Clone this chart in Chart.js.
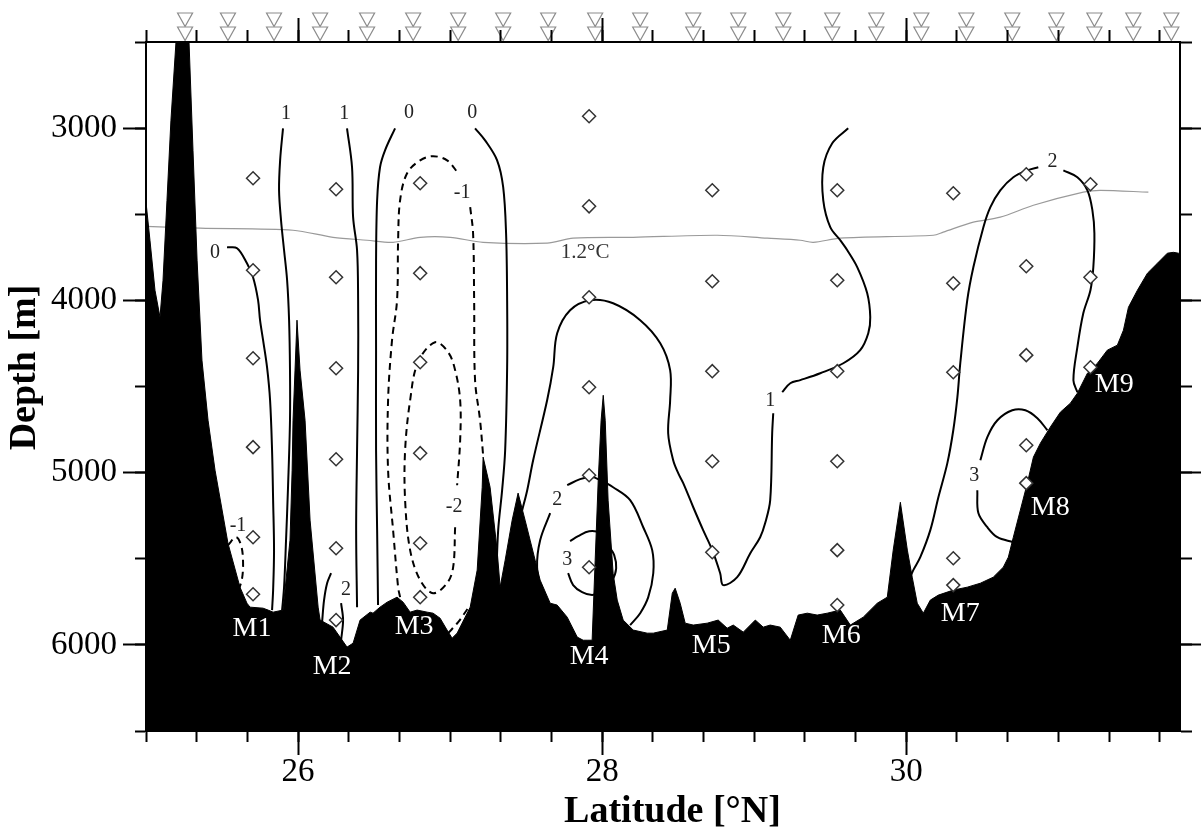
<!DOCTYPE html>
<html>
<head>
<meta charset="utf-8">
<script src="https://cdn.jsdelivr.net/npm/chart.js"></script>
<style>
html,body{margin:0;padding:0;background:#fff;}
#wrap{width:1201px;height:835px;}
</style>
</head>
<body>
<div id="wrap"><canvas id="c" width="1201" height="835"></canvas></div>
<script>
// ---------- axis ticks ----------
const latMin = 25, latMax = 31.8;
const depthMin = 2500, depthMax = 6500;
const majorLatTicks = [26, 28, 30];
const minorLatTicks = [25, 25.3333, 25.6667, 26, 26.3333, 26.6667, 27, 27.3333, 27.6667, 28, 28.3333, 28.6667,
  29, 29.3333, 29.6667, 30, 30.3333, 30.6667, 31, 31.3333, 31.6667];
const majorDepthTicks = [3000, 4000, 5000, 6000];
const minorDepthTicks = [2500, 3000, 3500, 4000, 4500, 5000, 5500, 6000, 6500];

// ---------- CTD stations (double triangles above the frame) ----------
const stationLat = [25.257, 25.539, 25.842, 26.145, 26.454, 26.757, 27.053, 27.349, 27.645, 27.954, 28.250, 28.599,
  28.895, 29.191, 29.513, 29.803, 30.099, 30.395, 30.697, 30.987, 31.237, 31.493, 31.743];

// ---------- current-meter sample points (diamonds) ----------
const diamondLat = [
  25.704, 25.704, 25.704, 25.704, 25.704, 25.704,
  26.250, 26.250, 26.250, 26.250, 26.250, 26.250,
  26.803, 26.803, 26.803, 26.803, 26.803, 26.803,
  27.914, 27.914, 27.914, 27.914, 27.914, 27.914,
  28.724, 28.724, 28.724, 28.724, 28.724,
  29.546, 29.546, 29.546, 29.546, 29.546, 29.546,
  30.309, 30.309, 30.309, 30.309, 30.309,
  30.789, 30.789, 30.789, 30.789, 30.789,
  31.211, 31.211, 31.211];
const diamondDepth = [
  3291, 3825, 4336, 4852, 5375, 5706,
  3355, 3866, 4394, 4922, 5439, 5856,
  3320, 3842, 4359, 4887, 5410, 5723,
  2931, 3454, 3982, 4504, 5015, 5549,
  3361, 3889, 4411, 4934, 5462,
  3361, 3883, 4411, 4934, 5450, 5769,
  3378, 3901, 4417, 5497, 5653,
  3268, 3802, 4318, 4841, 5061,
  3326, 3866, 4388];

// ---------- bathymetry ----------
const bathyLat = [25.000, 25.026, 25.059, 25.092, 25.112, 25.138, 25.164, 25.197, 25.237, 25.283,
  25.309, 25.336, 25.368, 25.408, 25.454, 25.539, 25.618, 25.664, 25.684, 25.770,
  25.803, 25.836, 25.901, 25.947, 25.961, 25.967, 25.980, 25.993, 26.013, 26.046,
  26.079, 26.132, 26.145, 26.230, 26.276, 26.322, 26.362, 26.408, 26.474, 26.493,
  26.539, 26.586, 26.651, 26.691, 26.737, 26.783, 26.849, 26.888, 26.934, 26.980,
  27.013, 27.046, 27.099, 27.132, 27.178, 27.211, 27.217, 27.263, 27.309, 27.329,
  27.362, 27.408, 27.447, 27.493, 27.526, 27.559, 27.592, 27.658, 27.704, 27.770,
  27.836, 27.875, 27.901, 27.934, 27.954, 27.974, 27.993, 28.007, 28.020, 28.039,
  28.072, 28.099, 28.138, 28.204, 28.296, 28.336, 28.428, 28.461, 28.480, 28.513,
  28.546, 28.599, 28.691, 28.763, 28.822, 28.862, 28.928, 29.007, 29.059, 29.105,
  29.171, 29.237, 29.289, 29.349, 29.414, 29.480, 29.566, 29.632, 29.717, 29.809,
  29.875, 29.914, 29.961, 30.007, 30.039, 30.072, 30.112, 30.158, 30.211, 30.309,
  30.401, 30.487, 30.572, 30.638, 30.671, 30.704, 30.750, 30.796, 30.836, 30.882,
  30.947, 31.013, 31.079, 31.125, 31.191, 31.257, 31.322, 31.388, 31.428, 31.461,
  31.520, 31.586, 31.651, 31.717, 31.757, 31.789, 31.803];
const bathyDepth = [3430, 3651, 3941, 4098, 3883, 3419, 2954, 2502, 2316, 2502,
  3129, 3767, 4347, 4696, 4986, 5410, 5665, 5758, 5781, 5787,
  5798, 5810, 5798, 5392, 4986, 4696, 4405, 4115, 4405, 4696,
  5276, 5781, 5856, 5897, 5955, 6013, 5990, 5856, 5810, 5816,
  5781, 5752, 5723, 5752, 5810, 5798, 5810, 5816, 5845, 5914,
  5961, 5932, 5839, 5781, 5566, 5085, 4910, 5085, 5450, 5665,
  5508, 5276, 5119, 5276, 5392, 5508, 5624, 5758, 5769, 5839,
  5955, 5973, 5973, 5973, 5508, 5044, 4696, 4551, 4696, 5160,
  5584, 5740, 5856, 5914, 5932, 5932, 5914, 5700, 5671, 5758,
  5874, 5885, 5874, 5856, 5903, 5885, 5926, 5856, 5897, 5885,
  5897, 5973, 5827, 5816, 5827, 5816, 5798, 5885, 5839, 5758,
  5723, 5450, 5172, 5450, 5607, 5758, 5816, 5740, 5711, 5682,
  5665, 5642, 5607, 5549, 5491, 5375, 5218, 5061, 4910, 4829,
  4736, 4649, 4597, 4539, 4423, 4365, 4289, 4260, 4173, 4040,
  3941, 3842, 3785, 3726, 3721, 3726, 3730];

// ---------- 1.2 degC isotherm ----------
const isoLat = [25.000, 25.355, 25.967, 26.230, 26.454, 26.625, 26.803, 27.000, 27.217, 27.638, 27.809, 28.204,
  28.757, 29.086, 29.303, 29.388, 29.566, 30.178, 30.243, 30.441, 30.618, 30.836, 31.164, 31.276, 31.592];
const isoDepth = [3570, 3581, 3593, 3634, 3651, 3663, 3634, 3634, 3663, 3668, 3639, 3634,
  3622, 3639, 3651, 3663, 3639, 3622, 3604, 3546, 3517, 3448, 3372, 3361, 3372];

// ---------- velocity contours (null = gap) ----------
const c0aLat = [25.533, 25.599, 25.664, 25.704, 25.737, 25.750, 25.770, 25.796, 25.816, 25.829, 25.836, 25.842, 25.836, 25.829];
const c0aDepth = [3692, 3697, 3785, 3866, 3999, 4115, 4231, 4388, 4580, 4870, 5160, 5450, 5682, 5798];
const c1aLat = [25.901, 25.882, 25.875, 25.888, 25.908, 25.928, 25.941, 25.947, 25.947, 25.934, 25.921, 25.908, 25.895];
const c1aDepth = [3001, 3187, 3361, 3535, 3709, 3883, 4115, 4405, 4696, 5085, 5392, 5665, 5798];
const cm1aLat = [25.539, 25.592, 25.625, 25.638, 25.632, 25.605];
const cm1aDepth = [5421, 5375, 5421, 5508, 5613, 5694];
const c2aLat = [26.158, 26.171, 26.191, 26.217, null, 26.283, 26.296, 26.283];
const c2aDepth = [5868, 5740, 5642, 5584, null, 5758, 5856, 5973];
const c1bLat = [26.322, 26.355, 26.362, 26.388, 26.395, 26.395, 26.388, 26.382, 26.388];
const c1bDepth = [3001, 3227, 3517, 3709, 3999, 4405, 4870, 5334, 5781];
const c0bLat = [26.638, 26.572, 26.539, 26.520, 26.513, 26.513, 26.513, 26.520, 26.526];
const c0bDepth = [3001, 3129, 3227, 3419, 3767, 4289, 4870, 5334, 5769];
const cm1bLat = [26.671, 26.658, 26.625, 26.592, 26.592, 26.618, 26.651, 26.658, 26.671, 26.717, 26.803, 26.888, 26.980, 27.053,
  null, 27.132, 27.151, 27.158, 27.164, 27.197, 27.217];
const cm1bDepth = [5723, 5665, 5334, 4986, 4580, 4231, 3999, 3651, 3419, 3262, 3187, 3163, 3187, 3262,
  null, 3459, 3610, 3999, 4463, 4696, 4899];
const cm1cLat = [26.987, 27.053, 27.118];
const cm1cDepth = [5932, 5868, 5787];
const cm2Lat = [27.033, 27.020, 26.980, 26.888, 26.803, 26.737, 26.704, 26.704, 26.737, 26.789, 26.901, 26.987, 27.033, 27.066, 27.066, 27.046];
const cm2Depth = [5317, 5549, 5642, 5700, 5624, 5450, 5160, 4870, 4580, 4359, 4243, 4301, 4405, 4580, 4812, 5073];
const c0cLat = [27.164, 27.230, 27.309, 27.349, 27.368, 27.375, 27.375, 27.362, 27.342, 27.316, 27.303];
const c0cDepth = [3001, 3071, 3187, 3343, 3610, 3999, 4388, 4870, 5102, 5334, 5624];
const c1cLat = [29.618, 29.513, 29.454, 29.454, 29.500, 29.566, 29.612, 29.678, 29.743, 29.763, 29.750, 29.697, 29.586, 29.434, 29.303, 29.237, 29.184,
  null, 29.125, 29.118, 29.105, 29.072, 29.039, 28.974, 28.888, 28.796, 28.776, 28.724, 28.664, 28.599, 28.533, 28.500, 28.467, 28.434,
  28.447, 28.447, 28.382, 28.250, 28.072, 27.921, 27.789, 27.704, 27.678, 27.638, 27.546, 27.507, 27.474];
const c1cDepth = [3001, 3088, 3227, 3419, 3575, 3651, 3709, 3808, 3959, 4098, 4191, 4289, 4365, 4423, 4463, 4481, 4533,
  null, 4655, 4771, 5160, 5293, 5375, 5468, 5607, 5653, 5584, 5450, 5334, 5201, 5061, 5003, 4928, 4771,
  4580, 4405, 4249, 4115, 4017, 3999, 4057, 4191, 4388, 4580, 4928, 5102, 5218];
const c2bLat = [27.605, 27.572, 27.592, 27.658, null, 27.770, 27.855, 27.934, 27.987, 28.072, 28.184, 28.270, 28.329, 28.336, 28.303, 28.250, 28.184];
const c2bDepth = [5723, 5549, 5392, 5235, null, 5073, 5038, 5026, 5044, 5085, 5160, 5317, 5450, 5584, 5723, 5816, 5885];
const c3aLat = [27.789, 27.842, 27.914, 27.987, 28.039, 28.079, 28.092, 28.066, 27.987, 27.934, 27.868, 27.809, 27.776];
const c3aDepth = [5398, 5369, 5340, 5352, 5421, 5479, 5555, 5624, 5694, 5711, 5694, 5653, 5584];
const c2cLat = [30.026, 30.046, 30.092, 30.158, 30.211, 30.270, 30.309, 30.336, 30.355, 30.401, 30.441, 30.507, 30.553, 30.618, 30.704, 30.796, 30.868,
  null, 31.033, 31.125, 31.191, 31.224, 31.237, 31.230, 31.211, 31.164, 31.125, 31.099, 31.125];
const c2cDepth = [5607, 5566, 5491, 5334, 5143, 4945, 4754, 4562, 4365, 3999, 3808, 3575, 3459, 3361, 3285, 3245, 3227,
  null, 3245, 3285, 3361, 3477, 3610, 3808, 3941, 4075, 4272, 4463, 4533];
const c3bLat = [30.928, 30.862, 30.783, 30.697, 30.599, 30.533, 30.487, null, 30.467, 30.474, 30.533, 30.599, 30.704];
const c3bDepth = [4754, 4684, 4638, 4638, 4696, 4794, 4928, null, 5102, 5235, 5317, 5375, 5404];

// ---------- text labels ----------
const contourLabelText = ['0', '1', '1', '0', '0', '-1', '-2', '-1', '2', '2', '3', '1', '2', '3'];
const contourLabelLat = [25.454, 25.921, 26.303, 26.730, 27.145, 27.079, 27.026, 25.605, 26.316, 27.704, 27.770, 29.105, 30.961, 30.447];
const contourLabelDepth = [3726, 2914, 2914, 2908, 2908, 3378, 5201, 5310, 5682, 5160, 5503, 4580, 3198, 5021];
const isoLabelText = ['1.2°C'];
const isoLabelLat = [27.888];
const isoLabelDepth = [3721];
const mooringText = ['M1', 'M2', 'M3', 'M4', 'M5', 'M6', 'M7', 'M8', 'M9'];
const mooringLat = [25.697, 26.224, 26.763, 27.914, 28.717, 29.572, 30.355, 30.947, 31.368];
const mooringDepth = [5903, 6129, 5897, 6071, 6007, 5949, 5816, 5201, 4487];

// ---------- build ----------
const pts = (lats, deps) => lats.map((x, i) => ({ x: x, y: deps[i] }));

const SERIF = '"Liberation Serif", "Times New Roman", serif';
Chart.defaults.font.family = SERIF;

function contour(label, lats, deps, dashed) {
  return {
    label: label, type: 'line', data: pts(lats, deps),
    borderColor: '#000', borderWidth: 2, pointRadius: 0, tension: 0.35,
    fill: false, borderDash: dashed ? [7, 5] : [], order: 3, spanGaps: false
  };
}

function mkAxis(o) {
  return {
    type: 'linear', axis: o.axis, position: o.position, min: o.min, max: o.max,
    reverse: !!o.reverse, weight: o.weight, bounds: 'data',
    afterBuildTicks: s => { s.ticks = o.ticksArr.map(v => ({ value: v })); },
    afterFit: s => { if (o.axis === 'x') s.height = o.size; else s.width = o.size; },
    grid: { display: true, drawOnChartArea: false, drawTicks: true, tickLength: o.tickLen,
            tickWidth: 2, tickColor: '#000', color: '#000' },
    border: { display: true, color: '#000', width: 2 },
    ticks: { display: !!o.labels, autoSkip: false, maxRotation: 0, minRotation: 0,
             padding: o.pad || 0, color: '#000',
             font: { family: SERIF, size: 33, lineHeight: 1 },
             callback: v => String(v) },
    title: o.title || { display: false }
  };
}

// station markers: x from the latitude scale, drawn in the strip above the frame (under the tick marks)
const stationPlugin = {
  id: 'stations',
  beforeDraw(chart) {
    const ctx = chart.ctx, xs = chart.scales.x, top = chart.chartArea.top;
    const halfW = 7.5, h = 13.5;
    ctx.save();
    ctx.strokeStyle = '#8c8c8c';
    ctx.fillStyle = '#fff';
    ctx.lineWidth = 1.2;
    stationLat.forEach(lat => {
      const px = xs.getPixelForValue(lat);
      [top - 29, top - 15].forEach(t => {
        ctx.beginPath();
        ctx.moveTo(px - halfW, t);
        ctx.lineTo(px + halfW, t);
        ctx.lineTo(px, t + h);
        ctx.closePath();
        ctx.fill();
        ctx.stroke();
      });
    });
    ctx.restore();
  }
};

const textPlugin = {
  id: 'textLabels',
  afterDatasetsDraw(chart) {
    const ctx = chart.ctx, xs = chart.scales.x, ys = chart.scales.y;
    ctx.save();
    ctx.textAlign = 'center';
    ctx.textBaseline = 'middle';
    ctx.font = '20px ' + SERIF;
    ctx.fillStyle = '#222';
    contourLabelText.forEach((t, i) => ctx.fillText(t, xs.getPixelForValue(contourLabelLat[i]), ys.getPixelForValue(contourLabelDepth[i])));
    ctx.font = '21px ' + SERIF;
    ctx.fillStyle = '#333';
    isoLabelText.forEach((t, i) => ctx.fillText(t, xs.getPixelForValue(isoLabelLat[i]), ys.getPixelForValue(isoLabelDepth[i])));
    ctx.font = '28px ' + SERIF;
    ctx.fillStyle = '#fff';
    mooringText.forEach((t, i) => ctx.fillText(t, xs.getPixelForValue(mooringLat[i]), ys.getPixelForValue(mooringDepth[i])));
    ctx.restore();
  }
};

new Chart(document.getElementById('c'), {
  type: 'line',
  data: {
    datasets: [
      { label: 'samples', type: 'line', data: pts(diamondLat, diamondDepth), showLine: false,
        pointStyle: 'rectRot', pointRadius: 6.5, pointBorderColor: '#333', pointBackgroundColor: '#fff',
        pointBorderWidth: 1.5, order: 0 },
      { label: 'bathymetry', type: 'line', data: pts(bathyLat, bathyDepth), borderColor: '#000', borderWidth: 1,
        backgroundColor: '#000', fill: { value: depthMax }, pointRadius: 0, tension: 0, order: 1 },
      contour('0 a', c0aLat, c0aDepth, false),
      contour('1 a', c1aLat, c1aDepth, false),
      contour('-1 a', cm1aLat, cm1aDepth, true),
      contour('2 a', c2aLat, c2aDepth, false),
      contour('1 b', c1bLat, c1bDepth, false),
      contour('0 b', c0bLat, c0bDepth, false),
      contour('-1 b', cm1bLat, cm1bDepth, true),
      contour('-1 c', cm1cLat, cm1cDepth, true),
      contour('-2', cm2Lat, cm2Depth, true),
      contour('0 c', c0cLat, c0cDepth, false),
      contour('1 c', c1cLat, c1cDepth, false),
      contour('2 b', c2bLat, c2bDepth, false),
      contour('3 a', c3aLat, c3aDepth, false),
      contour('2 c', c2cLat, c2cDepth, false),
      contour('3 b', c3bLat, c3bDepth, false),
      { label: '1.2°C isotherm', type: 'line', data: pts(isoLat, isoDepth), borderColor: '#9a9a9a', borderWidth: 1.2,
        pointRadius: 0, tension: 0.3, fill: false, order: 4 }
    ]
  },
  options: {
    responsive: false, devicePixelRatio: 1, animation: false, events: [],
    layout: { padding: 0 },
    plugins: { legend: { display: false }, tooltip: { enabled: false } },
    scales: {
      x: mkAxis({ axis: 'x', position: 'bottom', min: latMin, max: latMax, ticksArr: majorLatTicks, tickLen: 24,
                  size: 104, weight: 1, labels: true, pad: 1,
                  title: { display: true, text: '  Latitude [°N]', color: '#000',
                           font: { family: SERIF, size: 38, weight: 'bold' }, padding: { top: 0, bottom: 0 } } }),
      xMinor: mkAxis({ axis: 'x', position: 'bottom', min: latMin, max: latMax, ticksArr: minorLatTicks, tickLen: 11, size: 0, weight: 0 }),
      xTop: mkAxis({ axis: 'x', position: 'top', min: latMin, max: latMax, ticksArr: majorLatTicks, tickLen: 24, size: 42, weight: 1 }),
      xTopMinor: mkAxis({ axis: 'x', position: 'top', min: latMin, max: latMax, ticksArr: minorLatTicks, tickLen: 12, size: 0, weight: 0 }),
      y: mkAxis({ axis: 'y', position: 'left', min: depthMin, max: depthMax, reverse: true, ticksArr: majorDepthTicks, tickLen: 23,
                  size: 146, weight: 1, labels: true, pad: 6,
                  title: { display: true, text: '    Depth [m]', color: '#000',
                           font: { family: SERIF, size: 38, weight: 'bold' }, padding: { top: 2, bottom: 0 } } }),
      yMinor: mkAxis({ axis: 'y', position: 'left', min: depthMin, max: depthMax, reverse: true, ticksArr: minorDepthTicks, tickLen: 11, size: 0, weight: 0 }),
      yRight: mkAxis({ axis: 'y', position: 'right', min: depthMin, max: depthMax, reverse: true, ticksArr: majorDepthTicks, tickLen: 23, size: 21, weight: 1 }),
      yRightMinor: mkAxis({ axis: 'y', position: 'right', min: depthMin, max: depthMax, reverse: true, ticksArr: minorDepthTicks, tickLen: 12, size: 0, weight: 0 })
    }
  },
  plugins: [stationPlugin, textPlugin]
});
</script>
</body>
</html>
